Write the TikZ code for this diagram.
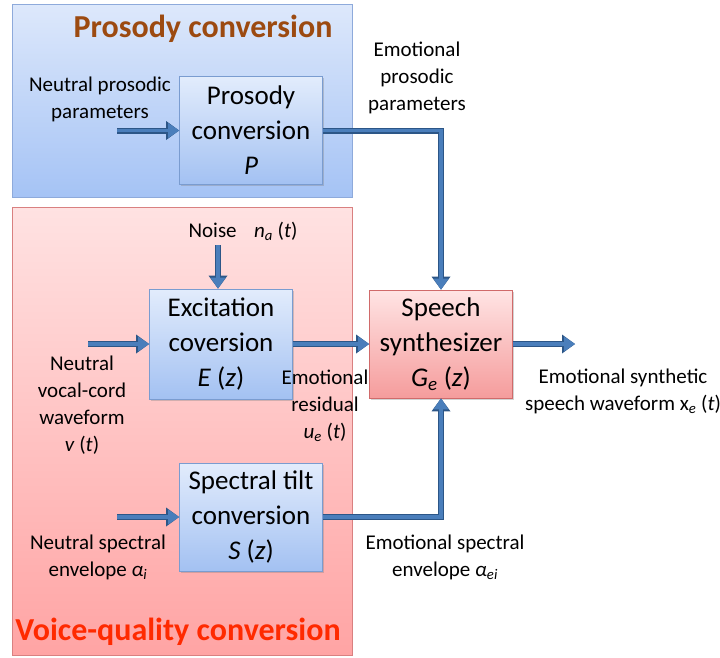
\documentclass[tikz,border=0pt]{standalone}
\usepackage{fontspec}
\setmainfont{Carlito}
\usetikzlibrary{arrows.meta,positioning,shadows}
\definecolor{paneltop}{HTML}{DDE8FB}
\definecolor{panelbot}{HTML}{A5C3F5}
\definecolor{paneledge}{HTML}{8EAADB}
\definecolor{pinktop}{HTML}{FFE2E2}
\definecolor{pinkbot}{HTML}{FFA4A4}
\definecolor{pinkedge}{HTML}{D98080}
\definecolor{boxtop}{HTML}{E2ECFC}
\definecolor{boxbot}{HTML}{A3C1F2}
\definecolor{boxedge}{HTML}{7A9CD0}
\definecolor{synthtop}{HTML}{FFE4E4}
\definecolor{synthbot}{HTML}{F59C9C}
\definecolor{synthedge}{HTML}{D06A6A}
\definecolor{arrowfill}{HTML}{4A7EBB}
\definecolor{arrowedge}{HTML}{2C5687}
\definecolor{prostitle}{HTML}{9C4A10}
\definecolor{vqtitle}{HTML}{FF2A00}

\tikzset{
  bluebox/.style={draw=boxedge, line width=0.8pt, top color=boxtop, bottom color=boxbot,
    minimum width=143pt, minimum height=108pt, inner sep=0pt, align=center,
    font=\fontsize{27}{35}\selectfont,
    drop shadow={shadow xshift=1.5pt, shadow yshift=-1.5pt, opacity=0.35}},
  pinkbox/.style={bluebox, draw=synthedge, top color=synthtop, bottom color=synthbot},
  sigtext/.style={align=center, font=\fontsize{21}{27}\selectfont, inner sep=0pt},
  bigarrow/.style={draw=arrowfill, line width=3.6pt, line join=miter,
    -{Triangle[length=11pt, width=15pt, line width=0pt]},
    preaction={draw=arrowedge, line width=6pt, line join=miter,
      -{Triangle[length=13pt, width=19pt, line width=0pt]}}}
}

\begin{document}
\begin{tikzpicture}[x=1pt, y=-1pt]
  \useasboundingbox (0,0) rectangle (720,657);

  % panels
  \draw[draw=paneledge, line width=0.8pt, top color=paneltop, bottom color=panelbot]
    (12,4) rectangle (352,197);
  \draw[draw=pinkedge, line width=0.8pt, top color=pinktop, bottom color=pinkbot]
    (12,207) rectangle (352,655);
  \node[text=prostitle, font=\fontsize{32}{36}\selectfont\bfseries] (prostitle) at (203,29) {Prosody conversion};
  \node[text=vqtitle, font=\fontsize{32}{36}\selectfont\bfseries] (vqtitle) at (178,632) {Voice-quality conversion};

  % blocks
  \node[bluebox] (prosody) at (251,130.5) {Prosody\\conversion\\\textit{P}};
  \node[bluebox, minimum height=110pt] (excite) at (221,344) {Excitation\\coversion\\\textit{E} (\textit{z})};
  \node[bluebox] (tilt) at (251,517) {Spectral tilt\\conversion\\\textit{S} (\textit{z})};
  \node[pinkbox] (synth) at (441,344) {Speech\\synthesizer\\\textit{G}\textsubscript{\textit{e}} (\textit{z})};

  % signal labels
  \node[sigtext] (neutpros) at (100,99) {Neutral prosodic\\parameters};
  \node[sigtext] (emopros) at (417,78) {Emotional\\prosodic\\parameters};
  \node[sigtext] (noise) at (243,231) {Noise\hspace{0.6em} \textit{n}\textsubscript{\textit{a}} (\textit{t})};
  \node[sigtext] (vocal) at (82,405) {Neutral\\vocal-cord\\waveform\\\textit{v} (\textit{t})};
  \node[sigtext] (residual) at (325,406) {Emotional\\residual\\\textit{u}\textsubscript{\textit{e}} (\textit{t})};
  \node[sigtext] (neutspec) at (98,557) {Neutral spectral\\envelope \textit{α}\textsubscript{\textit{i}}};
  \node[sigtext] (emospec) at (445,557) {Emotional spectral\\envelope \textit{α}\textsubscript{\textit{ei}}};
  \node[sigtext] (output) at (623,391) {Emotional synthetic\\speech waveform x\textsubscript{\textit{e}} (\textit{t})};

  % free ends of the arrows
  \coordinate (prosin) at (117,130.5);
  \coordinate (noisein) at (218,245);
  \coordinate (vocalin) at (88,344);
  \coordinate (specin) at (117,517);
  \coordinate (synthout) at (575,344);

  % arrows
  \draw[bigarrow] (prosin) -- (prosody);
  \draw[bigarrow] (prosody.east) -| (synth.north);
  \draw[bigarrow] (noisein) -- (noisein |- excite.north);
  \draw[bigarrow] (vocalin) -- (excite);
  \draw[bigarrow] (excite) -- (synth);
  \draw[bigarrow] (specin) -- (tilt);
  \draw[bigarrow] (tilt.east) -| (synth.south);
  \draw[bigarrow] (synth) -- (synthout);
\end{tikzpicture}
\end{document}
